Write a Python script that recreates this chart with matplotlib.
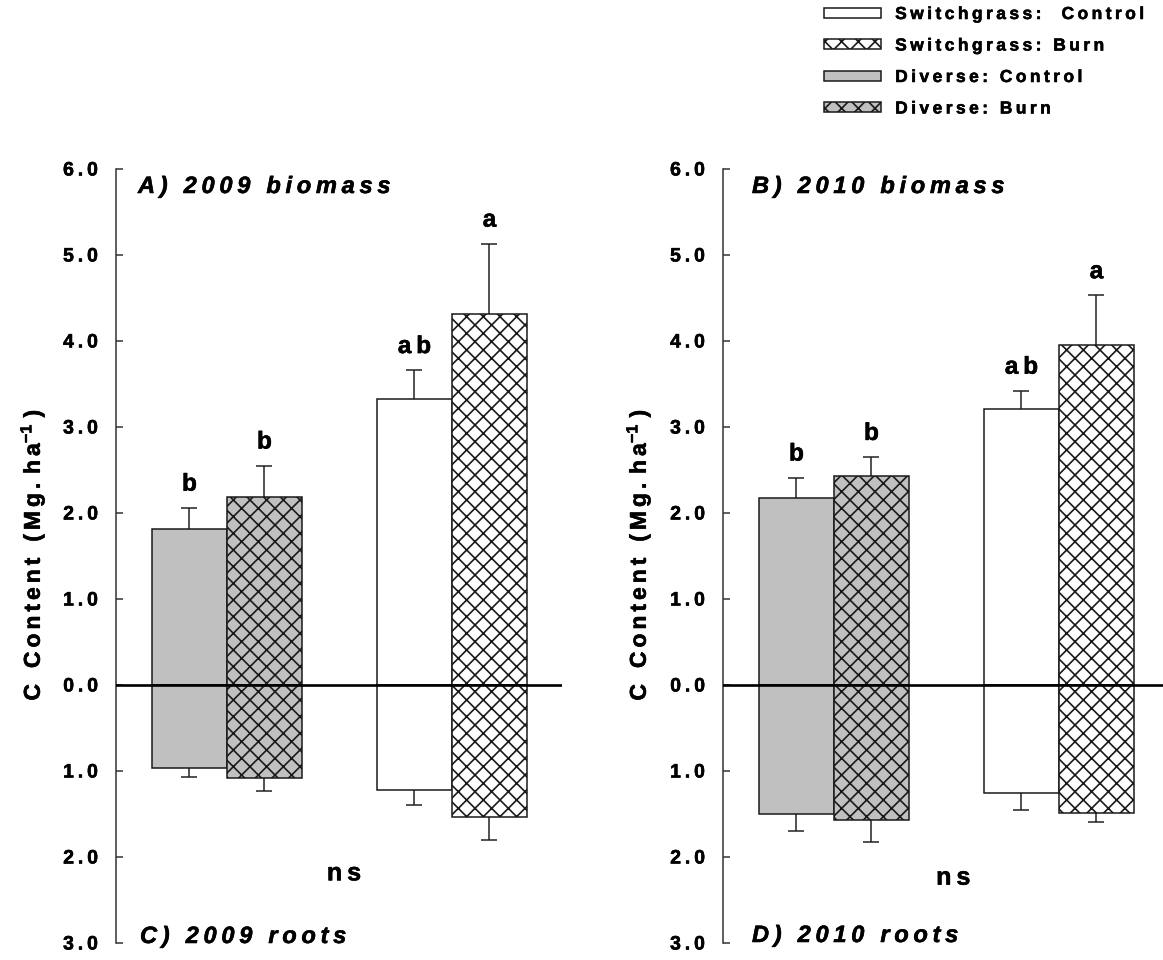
import numpy as np
import matplotlib
matplotlib.use("Agg")
import matplotlib.pyplot as plt
import matplotlib.patheffects as pe
from matplotlib.patches import Patch
from matplotlib.ticker import FuncFormatter, MultipleLocator

plt.rcParams['font.family'] = ['Liberation Sans', 'DejaVu Sans']
plt.rcParams['font.weight'] = 'bold'
plt.rcParams['hatch.linewidth'] = 1.2
plt.rcParams['mathtext.fontset'] = 'custom'
plt.rcParams['mathtext.bf'] = 'Liberation Sans:bold'
plt.rcParams['mathtext.rm'] = 'Liberation Sans:bold'

# order of bars within each panel
treatments = ["Diverse: Control", "Diverse: Burn", "Switchgrass: Control", "Switchgrass: Burn"]
positions = [1, 2, 4, 5]

# C content (Mg/ha), mean and SE
biomass_2009 = [1.81, 2.19, 3.33, 4.31]
biomass_2009_se = [0.25, 0.36, 0.33, 0.82]
roots_2009 = [0.97, 1.08, 1.22, 1.54]
roots_2009_se = [0.10, 0.15, 0.18, 0.26]
letters_2009 = ["b", "b", "ab", "a"]

biomass_2010 = [2.18, 2.43, 3.21, 3.95]
biomass_2010_se = [0.23, 0.22, 0.21, 0.58]
roots_2010 = [1.50, 1.57, 1.26, 1.49]
roots_2010_se = [0.20, 0.25, 0.19, 0.10]
letters_2010 = ["b", "b", "ab", "a"]

fills = ["#c0c0c0", "#c0c0c0", "white", "white"]
hatches = [None, "xx", None, "xx"]

W, H = 1163, 960
SP = "\u2009"
heavy = [pe.withStroke(linewidth=0.4, foreground="black")]


def spaced(s):
    return SP.join(s)


def math_spaced(s):
    return r"\,".join(r"\ " if c == " " else c for c in s)


def px_axes(fig, x0, x1, ytop, ybot):
    return fig.add_axes([x0 / W, 1 - ybot / H, (x1 - x0) / W, (ybot - ytop) / H])


def draw_panel(ax, biomass, biomass_se, roots, roots_se, letters):
    for x, b, r, fc, h in zip(positions, biomass, roots, fills, hatches):
        ax.bar(x, b, width=1.0, color=fc, edgecolor="#1a1a1a", linewidth=1.1, hatch=h, zorder=2)
        ax.bar(x, -r, width=1.0, color=fc, edgecolor="#1a1a1a", linewidth=1.1, hatch=h, zorder=2)

    zeros = np.zeros(len(positions))
    eb = ax.errorbar(positions, biomass, yerr=[zeros, biomass_se], fmt="none",
                     ecolor="#222222", elinewidth=1.1, capsize=5.5, capthick=1.1, zorder=1)
    eb[1][0].set_visible(False)
    eb = ax.errorbar(positions, -np.array(roots), yerr=[roots_se, zeros], fmt="none",
                     ecolor="#222222", elinewidth=1.1, capsize=5.5, capthick=1.1, zorder=1)
    eb[1][1].set_visible(False)

    for x, b, se, lab in zip(positions, biomass, biomass_se, letters):
        ax.text(x, b + se + 0.2, spaced(lab), ha="center", va="baseline",
                fontsize=17.5, fontweight="bold", path_effects=heavy)

    ax.axhline(0, color="black", linewidth=1.9, zorder=5)

    ax.set_xlim(0.02, 5.967)
    ax.set_ylim(-3, 6)
    ax.yaxis.set_major_locator(MultipleLocator(1))
    ax.yaxis.set_major_formatter(FuncFormatter(lambda v, p: spaced(f"{abs(v):.1f}")))
    ax.tick_params(axis="y", direction="in", length=5, width=1.1, color="#333333",
                   pad=13, labelsize=14)
    for lab in ax.get_yticklabels():
        lab.set_fontweight("bold")
        lab.set_path_effects(heavy)
    ax.set_xticks([])
    for s in ["top", "right", "bottom"]:
        ax.spines[s].set_visible(False)
    ax.spines["left"].set_color("#333333")
    ax.spines["left"].set_linewidth(1.1)
    ax.spines["left"].set_bounds(-3, 6)
    ax.patch.set_visible(False)


fig = plt.figure(figsize=(W / 100, H / 100), dpi=100)

ax1 = px_axes(fig, 116, 562, 169, 943)
draw_panel(ax1, biomass_2009, biomass_2009_se, roots_2009, roots_2009_se, letters_2009)
ax2 = px_axes(fig, 723, 1169, 169, 943)
draw_panel(ax2, biomass_2010, biomass_2010_se, roots_2010, roots_2010_se, letters_2010)

ax1.text(3.06, -2.19, spaced("ns"), ha="center", va="center", fontsize=18,
         fontweight="bold", path_effects=heavy)
ax2.text(3.09, -2.24, spaced("ns"), ha="center", va="center", fontsize=18,
         fontweight="bold", path_effects=heavy)

ylab = "$\\mathbf{" + math_spaced("C Content (Mg.ha") + "^{-1}\\;)}$"
fig.text(32 / W, 1 - 555 / H, ylab, rotation=90, ha="center", va="center", fontsize=16.5,
         path_effects=heavy)
fig.text(638 / W, 1 - 555 / H, ylab, rotation=90, ha="center", va="center", fontsize=16.5,
         path_effects=heavy)

panel_font = dict(fontsize=17, fontweight="bold", fontstyle="italic", va="baseline",
                  ha="left", path_effects=heavy)
fig.text(138 / W, 1 - 193 / H, spaced("A) 2009 biomass"), **panel_font)
fig.text(752 / W, 1 - 193 / H, spaced("B) 2010 biomass"), **panel_font)
fig.text(140 / W, 1 - 943 / H, spaced("C) 2009 roots"), **panel_font)
fig.text(752 / W, 1 - 942 / H, spaced("D) 2010 roots"), **panel_font)

legend_order = [2, 3, 0, 1]
legend_labels = ["Switchgrass:  Control", "Switchgrass: Burn", "Diverse: Control", "Diverse: Burn"]
handles = [Patch(facecolor=fills[i], edgecolor="#1a1a1a", linewidth=1.1, hatch=hatches[i])
           for i in legend_order]
leg = fig.legend(handles, [spaced(t) for t in legend_labels], loc="upper left",
                 bbox_to_anchor=(824 / W, 1 - 7 / H), frameon=False, handlelength=3.3,
                 handleheight=0.48, handletextpad=0.8, labelspacing=0.95, borderpad=0,
                 borderaxespad=0, prop=dict(size=12.5, weight="bold"))
for t in leg.get_texts():
    t.set_path_effects(heavy)

fig.savefig("out.png", dpi=100)
